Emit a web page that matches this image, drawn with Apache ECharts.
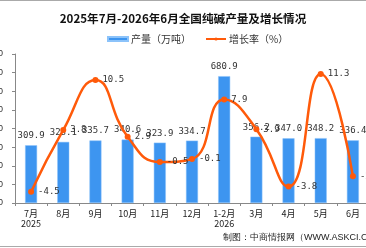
<!DOCTYPE html>
<html><head><meta charset="utf-8">
<script src="https://cdn.jsdelivr.net/npm/echarts@6/dist/echarts.min.js"></script>
<style>html,body{margin:0;padding:0;background:#fff}#c{width:366px;height:248px}</style>
</head><body><div id="c"></div>
<script>
const categories = ['7月\n2025','8月','9月','10月','11月','12月','1-2月\n2026','3月','4月','5月','6月'];
const production = [309.9, 328.1, 335.7, 340.6, 323.9, 334.7, 680.9, 356.2, 347.0, 348.2, 336.4];
const growth = [-4.5, 3.8, 10.5, 2.9, -0.5, -0.1, 7.9, 3.9, -3.8, 11.3, -2.4];
const leftTicks = {min: 0, max: 800, interval: 100};
const rightTicks = {min: -6, max: 14};

const chart = echarts.init(document.getElementById('c'), null, {renderer: 'canvas'});
const lblFont = '"DejaVu Sans Mono", monospace';
chart.setOption({
  animation: false,
  backgroundColor: '#fff',
  title: {
    text: '2025年7月-2026年6月全国纯碱产量及增长情况',
    left: 'center', top: 8,
    textStyle: {fontSize: 11.6, fontWeight: 'bold', color: '#111', fontFamily: '"Noto Sans CJK SC"'}
  },
  legend: {
    top: 29, left: 102, itemGap: 14, itemWidth: 20, itemHeight: 4,
    textStyle: {fontSize: 10, color: '#333', fontFamily: '"Noto Sans CJK SC"', padding: [0, 0, 0, -2]},
    data: [
      {name: '产量（万吨）', icon: 'rect'},
      {name: '增长率（%）'}
    ]
  },
  grid: {left: 15, top: 54, width: 354, bottom: 45, containLabel: false, outerBoundsMode: 'none'},
  xAxis: {
    type: 'category', data: categories,
    axisLine: {lineStyle: {color: '#888'}},
    axisTick: {show: true, lineStyle: {color: '#888'}, length: 3},
    axisLabel: {fontSize: 9, color: '#222', lineHeight: 10, margin: 6, interval: 0, fontFamily: '"Noto Sans CJK SC"'}
  },
  yAxis: [
    {type: 'value', min: leftTicks.min, max: leftTicks.max, interval: leftTicks.interval,
     axisLine: {show: true, lineStyle: {color: '#888'}},
     axisTick: {show: true, length: 3, lineStyle: {color: '#888'}},
     splitLine: {show: false},
     axisLabel: {fontSize: 9, color: '#333', margin: 12}},
    {type: 'value', min: rightTicks.min, max: rightTicks.max,
     axisLine: {show: false}, axisTick: {show: false}, splitLine: {show: false},
     axisLabel: {show: false}}
  ],
  series: [
    {name: '产量（万吨）', type: 'bar', data: production, barWidth: 12,
     itemStyle: {color: '#3D95F0', borderColor: '#8CC3FA', borderWidth: 0.5},
     label: {show: true, position: 'top', distance: 5, fontSize: 9, color: '#333', fontFamily: lblFont,
       formatter: p => p.value.toFixed(1)}},
    {name: '增长率（%）', type: 'line', yAxisIndex: 1, data: growth, smooth: true,
     symbol: 'circle', symbolSize: 6,
     lineStyle: {color: '#FF5A0A', width: 2.5},
     itemStyle: {color: '#FF5A0A'},
     label: {show: true, position: 'right', distance: 4, fontSize: 9, color: '#333', fontFamily: lblFont,
       formatter: p => p.value.toFixed(1)},
     z: 3}
  ],
  graphic: [
    {type: 'text', left: 223, top: 233, style: {text: '制图：中商情报网（WWW.ASKCI.COM）', fontSize: 9, fill: '#222', font: '9px "Noto Sans CJK SC"'}},
    {type: 'rect', left: 0, top: 0, shape: {width: 366, height: 1}, style: {fill: '#aaa'}},
    {type: 'rect', left: 0, top: 246, shape: {width: 366, height: 1}, style: {fill: '#aaa'}}
  ]
});
</script></body></html>
